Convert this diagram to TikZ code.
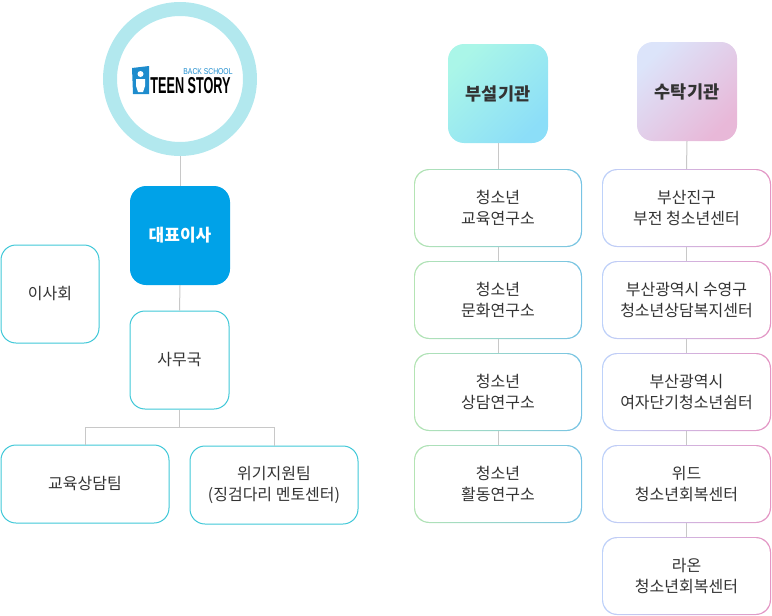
\documentclass[tikz,border=0pt]{standalone}
\usepackage{fontspec}
\setmainfont{Noto Sans CJK KR}
\newfontfamily\logofont{Liberation Sans}
\definecolor{schrift}{RGB}{51,51,51}
\definecolor{grau}{RGB}{200,200,200}
\definecolor{tuerkis}{RGB}{64,200,216}
\definecolor{ring}{RGB}{178,232,238}
\definecolor{chef}{RGB}{0,162,232}
\definecolor{logoblau}{RGB}{30,140,205}
\definecolor{mintA}{RGB}{170,246,232}
\definecolor{mintB}{RGB}{140,222,248}
\definecolor{lilaA}{RGB}{220,228,250}
\definecolor{lilaB}{RGB}{232,184,216}
\definecolor{gruenR}{RGB}{180,228,180}
\definecolor{blauR}{RGB}{120,196,228}
\definecolor{hblauR}{RGB}{190,210,250}
\definecolor{rosaR}{RGB}{228,150,196}
\begin{document}
\begin{tikzpicture}[x=1pt,y=-1pt,
  linie/.style={draw=grau, line width=1pt},
  kasten/.style={draw=tuerkis, line width=1pt, rounded corners=15pt, fill=white,
    text=schrift, align=center, inner sep=0pt, font=\fontsize{16}{21}\selectfont},
  kopf/.style={rounded corners=16pt, minimum width=100pt, minimum height=99pt,
    text=schrift, font=\bfseries\fontsize{17.5}{20}\selectfont},
  rahmen/.style 2 args={rounded corners=15pt, minimum height=78pt, inner sep=0pt,
    align=center, text=schrift, font=\fontsize{16}{21}\selectfont,
    left color=#1, right color=#2,
    path picture={\fill[white, rounded corners=14pt]
      ([xshift=1.2pt,yshift=-1.2pt]path picture bounding box.north west) rectangle
      ([xshift=-1.2pt,yshift=1.2pt]path picture bounding box.south east);}}]
\useasboundingbox (0,0) rectangle (772,616);
% Logo:
\node[circle, draw=ring, line width=14pt, minimum size=140pt, inner sep=0pt] (logo) at (180,79) {};
\fill[logoblau] (132,68) -- (149,66) -- (149,94) -- (133,94) -- cycle;
\fill[white] (140.5,74) circle (3pt);
\fill[white] (136,79) -- (145,79) -- (145,86) -- (143,92) -- (138,92) -- (136,86) -- cycle;
\node[logoblau, font=\logofont\fontsize{8.5}{9}\selectfont, xscale=0.8, inner sep=0pt] (logooben) at (208,72) {BACK SCHOOL};
\node[font=\logofont\bfseries\fontsize{23}{23}\selectfont, xscale=0.55, inner sep=0pt] (logotext) at (190.5,86) {TEEN STORY};
% Vorstand:
\node[kopf, fill=chef, text=white, font=\bfseries\fontsize{17}{20}\selectfont] (chef) at (180,235.5) {대표이사};
\node[kasten, minimum width=98pt, minimum height=98pt] (rat) at (50,294) {이사회};
\node[kasten, minimum width=99pt, minimum height=98pt] (buero) at (179.5,360) {사무국};
\node[kasten, minimum width=168pt, minimum height=78pt] (team1) at (85,484) {교육상담팀};
\node[kasten, minimum width=168pt, minimum height=78pt] (team2) at (274,485) {위기지원팀\\(징검다리 멘토센터)};
% Linien links:
\draw[linie] (logo.south) -- (chef.north);
\draw[linie] (chef.south) -- (buero.north);
\draw[linie] (buero.south) -- ++(0,18) coordinate (teil);
\draw[linie] (teil) -| (team1.north);
\draw[linie] (teil) -| (team2.north);
% Einrichtungen:
\node[kopf, top color=mintA, bottom color=mintB, shading angle=45] (annex) at (498,93.5) {부설기관};
\node[rahmen={gruenR}{blauR}, minimum width=168pt] (a1) at (498,208) {청소년\\교육연구소};
\node[rahmen={gruenR}{blauR}, minimum width=168pt] (a2) at (498,300) {청소년\\문화연구소};
\node[rahmen={gruenR}{blauR}, minimum width=168pt] (a3) at (498,392) {청소년\\상담연구소};
\node[rahmen={gruenR}{blauR}, minimum width=168pt] (a4) at (498,484) {청소년\\활동연구소};
\node[kopf, top color=lilaA, bottom color=lilaB, shading angle=45] (auftrag) at (687,91.5) {수탁기관};
\node[rahmen={hblauR}{rosaR}, minimum width=169pt] (b1) at (686.5,208) {부산진구\\부전 청소년센터};
\node[rahmen={hblauR}{rosaR}, minimum width=169pt] (b2) at (686.5,300) {부산광역시 수영구\\청소년상담복지센터};
\node[rahmen={hblauR}{rosaR}, minimum width=169pt] (b3) at (686.5,392) {부산광역시\\여자단기청소년쉼터};
\node[rahmen={hblauR}{rosaR}, minimum width=169pt] (b4) at (686.5,484) {위드\\청소년회복센터};
\node[rahmen={hblauR}{rosaR}, minimum width=169pt] (b5) at (686.5,576) {라온\\청소년회복센터};
% Linien rechts:
\draw[linie] (annex.south) -- (a1.north);
\draw[linie] (a1.south) -- (a2.north);
\draw[linie] (a2.south) -- (a3.north);
\draw[linie] (a3.south) -- (a4.north);
\draw[linie] (auftrag.south) -- (b1.north);
\draw[linie] (b1.south) -- (b2.north);
\draw[linie] (b2.south) -- (b3.north);
\draw[linie] (b3.south) -- (b4.north);
\draw[linie] (b4.south) -- (b5.north);
\end{tikzpicture}
\end{document}
